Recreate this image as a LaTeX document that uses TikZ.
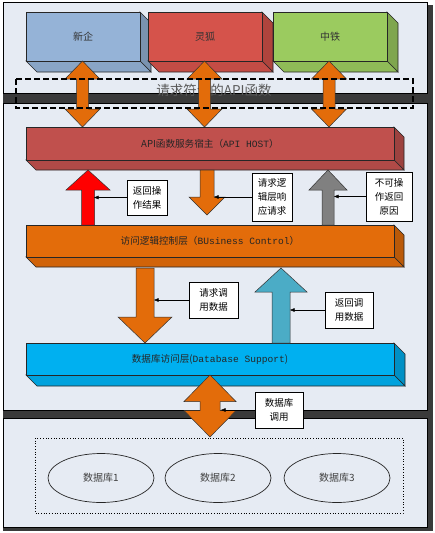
\documentclass[tikz,border=0pt]{standalone}
\usepackage{fontspec}
\setmainfont{Noto Sans CJK SC}
\newfontfamily\enfont{Liberation Mono}
\usetikzlibrary{arrows.meta,shapes.geometric}
\definecolor{panelbg}{HTML}{E6EBF3}
\definecolor{bandc}{HTML}{3A3A3A}
\definecolor{xqblue}{HTML}{95B3D7}
\definecolor{lhred}{HTML}{D5534B}
\definecolor{ztgreen}{HTML}{9BCB5F}
\definecolor{orng}{HTML}{E36C0A}
\definecolor{hostred}{HTML}{C0504D}
\definecolor{dbblue}{HTML}{00B0F0}
\definecolor{tealc}{HTML}{4BACC6}
\definecolor{grayc}{HTML}{808080}
\newcommand\en[1]{{\enfont #1}}
% 3D box: x1,y1,x2,y2,depth,color
\newcommand\threedbox[6]{%
  \filldraw[boxline,fill=#6!82!black] (#3,#2) -- ({#3+#5},{#2+#5}) -- ({#3+#5},{#4+#5}) -- (#3,#4) -- cycle;
  \filldraw[boxline,fill=#6!92!black] (#1,#4) -- (#3,#4) -- ({#3+#5},{#4+#5}) -- ({#1+#5},{#4+#5}) -- cycle;
  \filldraw[boxline,fill=#6] (#1,#2) rectangle (#3,#4);}
% up arrow: cx, tip y, base y, head half width, shaft half width, head length, colour
\newcommand\arrowup[7]{%
  \filldraw[bigarr,fill=#7] ({#1},#2) -- ({#1+#4},{#2+#6}) -- ({#1+#5},{#2+#6}) -- ({#1+#5},#3) -- ({#1-#5},#3) -- ({#1-#5},{#2+#6}) -- ({#1-#4},{#2+#6}) -- cycle;}
\newcommand\arrowdown[7]{%
  \filldraw[bigarr,fill=#7] ({#1},#2) -- ({#1+#4},{#2-#6}) -- ({#1+#5},{#2-#6}) -- ({#1+#5},#3) -- ({#1-#5},#3) -- ({#1-#5},{#2-#6}) -- ({#1-#4},{#2-#6}) -- cycle;}
% double arrow: cx, top tip, bottom tip, head hw, shaft hw, head length, colour
\newcommand\arrowboth[7]{%
  \filldraw[bigarr,fill=#7] ({#1},#2) -- ({#1+#4},{#2+#6}) -- ({#1+#5},{#2+#6}) -- ({#1+#5},{#3-#6}) -- ({#1+#4},{#3-#6}) -- ({#1},#3) -- ({#1-#4},{#3-#6}) -- ({#1-#5},{#3-#6}) -- ({#1-#5},{#2+#6}) -- ({#1-#4},{#2+#6}) -- cycle;}
\begin{document}
\begin{tikzpicture}[x=1pt,y=-1pt,
  boxline/.style={draw=black!85,line width=0.6pt},
  bigarr/.style={draw=black!80,line width=0.5pt},
  panel/.style={fill=panelbg,draw=black,line width=0.8pt},
  labelbox/.style={draw=black,fill=white,line width=0.6pt,align=center,font=\fontsize{9.5}{14}\selectfont,inner sep=1pt},
  boxtext/.style={font=\fontsize{10}{12}\selectfont,text=black!80},
  layertext/.style={font=\fontsize{9.6}{11}\selectfont,text=black!85},
  ptr/.style={-{Triangle[length=4.5pt,width=3.5pt]},line width=0.5pt},
  db/.style={ellipse,draw=black!85,line width=0.7pt,minimum width=106pt,minimum height=49pt,font=\fontsize{10}{12}\selectfont,text=black!75}]
\useasboundingbox (0,0) rectangle (434,533);
\fill[white] (0,0) rectangle (434,533);
% shadow / bands
\fill[bandc] (3,5) rectangle (433,531);
% panels
\draw[panel] (3,2) rectangle (427,93);
\draw[panel] (3,103) rectangle (427,410);
\draw[panel] (3,418) rectangle (427,527);
% top boxes
\threedbox{26}{12}{140}{61}{11}{xqblue}
\threedbox{148}{12}{262}{61}{11}{lhred}
\threedbox{273}{12}{387}{61}{11}{ztgreen}
\node[boxtext] (xq) at (83,36.5) {新企};
\node[boxtext] (lh) at (205,36.5) {灵狐};
\node[boxtext] (zt) at (330,36.5) {中铁};
% title of dashed region
\node[font=\fontsize{13.5}{15}\selectfont,text=black!65] (apif) at (214,90) {请求符合的API函数};
% double arrows
\arrowboth{82.5}{61}{127}{17.5}{6}{18}{orng}
\arrowboth{204.5}{61}{127}{17.5}{6}{18}{orng}
\arrowboth{329}{61}{127}{17.5}{6}{18}{orng}
\draw[line width=1.8pt,dash pattern=on 6pt off 3pt] (16,79) rectangle (413,108);
% layers
\threedbox{26}{127}{394}{160}{10}{hostred}
\node[layertext] (host) at (210,143.5) {API函数服务宿主（\en{API HOST}）};
\threedbox{26}{225}{394}{257}{10}{orng}
\node[layertext] (biz) at (210,241) {访问逻辑控制层（\en{BUsiness Control}）};
\threedbox{26}{343}{394}{375}{11}{dbblue}
\node[layertext] (dbl) at (210,359) {数据库访问层(\en{Database Support})};
% arrows between host and business
\arrowup{88}{170}{225}{22}{6.5}{20}{red}
\arrowdown{207}{215}{170}{18}{7}{18}{orng}
\arrowup{328}{170}{225}{19}{6}{20}{grayc}
% arrows between business and database
\arrowdown{145}{343}{268}{27}{9}{26}{orng}
\arrowup{281}{268}{343}{26}{9}{24}{tealc}
% database double arrow
\arrowboth{210}{375}{437}{26}{10}{26.5}{orng}
% labels
\node[labelbox,minimum width=40pt,minimum height=35pt] (l1) at (147,197.5) {返回操\\作结果};
\node[labelbox,minimum width=40pt,minimum height=48pt] (l2) at (272,197) {请求逻\\辑层响\\应请求};
\node[labelbox,minimum width=46pt,minimum height=49pt] (l3) at (389,196.5) {不可操\\作返回\\原因};
\node[labelbox,minimum width=49pt,minimum height=36pt] (l4) at (213.5,300) {请求调\\用数据};
\node[labelbox,minimum width=48pt,minimum height=36pt] (l5) at (349,310) {返回调\\用数据};
\node[labelbox,minimum width=48pt,minimum height=36pt] (l6) at (279,410) {数据库\\调用};
\coordinate (p1) at (94,197.5);
\coordinate (p2) at (214,197);
\coordinate (p3) at (334,196.5);
\coordinate (p4) at (154,300);
\coordinate (p5) at (290,310);
\coordinate (p6) at (221,410);
\draw[ptr] (l1.west) -- (p1);
\draw[ptr] (l2.west) -- (p2);
\draw[ptr] (l3.west) -- (p3);
\draw[ptr] (l4.west) -- (p4);
\draw[ptr] (l5.west) -- (p5);
\draw[ptr] (l6.west) -- (p6);
% databases
\draw[dotted,line width=0.7pt] (35,438) rectangle (403,513);
\node[db] (d1) at (101,478) {数据库1};
\node[db] (d2) at (218,478) {数据库2};
\node[db] (d3) at (337,478) {数据库3};
\end{tikzpicture}
\end{document}
